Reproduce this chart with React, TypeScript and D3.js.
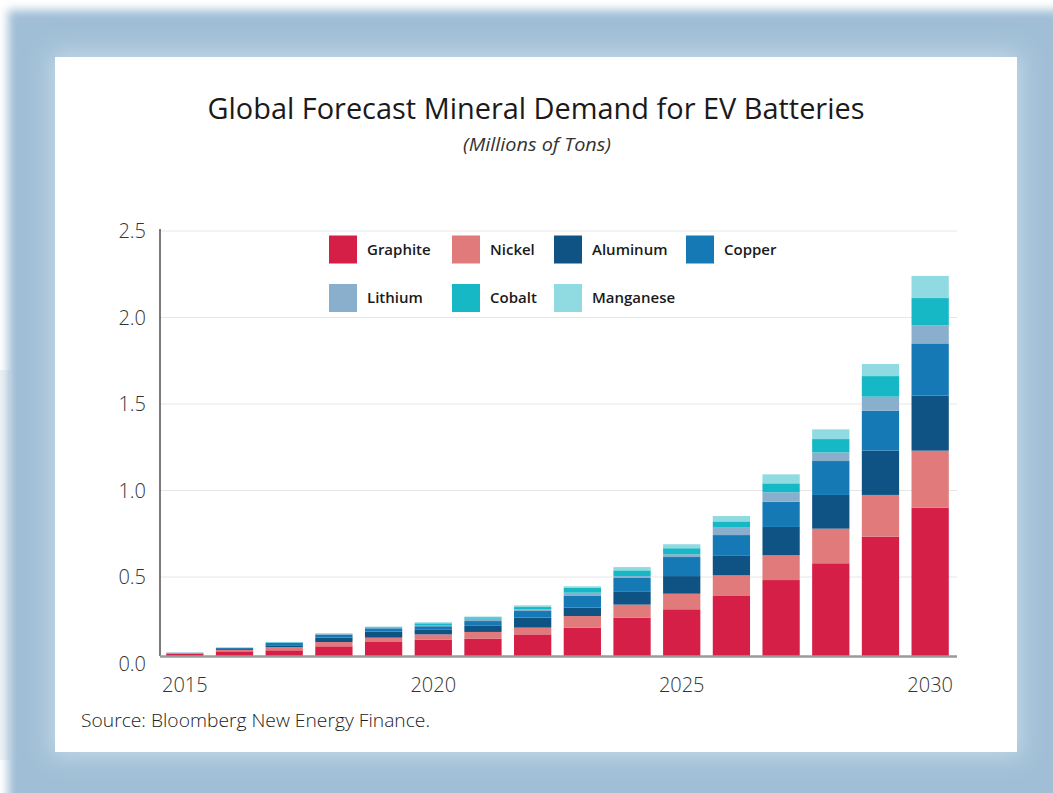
import * as d3 from "d3";

const years = [2015, 2016, 2017, 2018, 2019, 2020, 2021, 2022, 2023, 2024, 2025, 2026, 2027, 2028, 2029, 2030];

const graphite = [0.013, 0.027, 0.033, 0.056, 0.081, 0.095, 0.101, 0.125, 0.164, 0.222, 0.270, 0.347, 0.439, 0.536, 0.690, 0.857];
const nickel = [0.004, 0.008, 0.019, 0.025, 0.025, 0.030, 0.038, 0.039, 0.067, 0.075, 0.090, 0.119, 0.143, 0.200, 0.241, 0.330];
const aluminum = [0.001, 0.005, 0.010, 0.025, 0.035, 0.029, 0.038, 0.058, 0.049, 0.077, 0.102, 0.116, 0.164, 0.195, 0.256, 0.318];
const copper = [0.001, 0.006, 0.013, 0.018, 0.019, 0.018, 0.025, 0.038, 0.067, 0.077, 0.110, 0.117, 0.146, 0.196, 0.231, 0.302];
const lithium = [0, 0.002, 0.002, 0.003, 0.003, 0.007, 0.014, 0.010, 0.019, 0.011, 0.016, 0.043, 0.054, 0.050, 0.081, 0.105];
const cobalt = [0, 0.001, 0.003, 0.002, 0.004, 0.010, 0.008, 0.013, 0.027, 0.033, 0.035, 0.036, 0.052, 0.077, 0.119, 0.157];
const manganese = [0, 0.001, 0.001, 0.002, 0.003, 0.006, 0.004, 0.010, 0.010, 0.019, 0.023, 0.031, 0.052, 0.056, 0.070, 0.128];

const minerals = ["Graphite", "Nickel", "Aluminum", "Copper", "Lithium", "Cobalt", "Manganese"];
const colors = ["#d51f47", "#e07a7b", "#0e5383", "#1479b5", "#89afcc", "#17b8c6", "#8fdbe1"];

const yTicks = [0, 0.5, 1, 1.5, 2, 2.5];
const xTickYears = [2015, 2020, 2025, 2030];

const W = 1053;
const H = 793;
const margin = { left: 160, right: 98, top: 223.5, bottom: 137 };
// the original draws the grid 7.5px below the bar scale
const gridShift = 7.5;

export default function App() {
  const series = [graphite, nickel, aluminum, copper, lithium, cobalt, manganese];
  const rows = years.map((yr, i) => {
    const r: Record<string, number> = { year: yr };
    minerals.forEach((m, k) => (r[m] = series[k][i]));
    return r;
  });

  const stacked = d3.stack<Record<string, number>>().keys(minerals)(rows);

  const color = d3.scaleOrdinal<string>().domain(minerals).range(colors);

  const x = d3.scaleBand<number>()
    .domain(years)
    .range([margin.left, W - margin.right])
    .paddingInner(0.25)
    .paddingOuter(0.125);

  const y = d3.scaleLinear()
    .domain([0, 2.5])
    .range([H - margin.bottom, margin.top]);

  const base = y(0);
  const legendCols = [329, 452, 554, 686];
  const legendRows = [235.5, 284];

  return (
    <svg width={W} height={H} style={{ position: "absolute", left: 0, top: 0, display: "block" }}>
      <defs>
        <filter id="blurOuter" x="-5%" y="-5%" width="110%" height="110%">
          <feGaussianBlur stdDeviation="5" />
        </filter>
        <filter id="blurInner" x="-5%" y="-5%" width="110%" height="110%">
          <feGaussianBlur stdDeviation="12" />
        </filter>
      </defs>

      {/* frame */}
      <rect x={0} y={0} width={W} height={H} fill="#ffffff" />
      <rect x={0} y={370} width={10} height={390} fill="#eef2f5" />
      <rect x={8} y={10} width={W} height={H} fill="#a0bed5" filter="url(#blurOuter)" />
      <rect x={50} y={52} width={972} height={705} fill="#c3d8e7" filter="url(#blurInner)" />
      <rect x={55} y={57} width={962} height={695} fill="#ffffff" />

      {/* titles */}
      <text x={536} y={119} textAnchor="middle" fontFamily="'Open Sans', sans-serif" fontSize={30}
        fill="#1a1a1a" textLength={657} lengthAdjust="spacingAndGlyphs">
        Global Forecast Mineral Demand for EV Batteries
      </text>
      <text x={537} y={151} textAnchor="middle" fontFamily="'Open Sans', sans-serif" fontSize={19}
        fontStyle="italic" fill="#333" textLength={148} lengthAdjust="spacingAndGlyphs">
        (Millions of Tons)
      </text>

      {/* grid */}
      {yTicks.filter(t => t > 0).map(t => (
        <line key={t} x1={margin.left} x2={W - margin.right + 2} y1={y(t) + gridShift} y2={y(t) + gridShift}
          stroke="#e6e6e6" strokeWidth={1} />
      ))}

      {/* y labels */}
      {yTicks.map(t => (
        <text key={t} x={146} y={y(t) + gridShift} dy="0.36em" textAnchor="end"
          fontFamily="'Open Sans', sans-serif" fontWeight={300} fontSize={20} fill="#333">
          {d3.format(".1f")(t)}
        </text>
      ))}

      {/* bars */}
      {stacked.map(s => (
        <g key={s.key} fill={color(s.key)}>
          {s.map((d, i) => (
            <rect key={i} x={x(years[i])} width={x.bandwidth()}
              y={y(d[1])} height={Math.max(0, y(d[0]) - y(d[1]))} />
          ))}
        </g>
      ))}

      {/* axes */}
      <line x1={margin.left} x2={margin.left} y1={229} y2={base} stroke="#333" strokeWidth={1.3} />
      <line x1={margin.left} x2={W - margin.right + 2} y1={base + 0.5} y2={base + 0.5} stroke="#9a9a9a" strokeWidth={2.5} />

      {/* x labels */}
      {xTickYears.map(yr => (
        <text key={yr} x={(x(yr) ?? 0) + x.bandwidth() / 2} y={692} textAnchor="middle"
          fontFamily="'Open Sans', sans-serif" fontWeight={300} fontSize={20} fill="#333">
          {yr}
        </text>
      ))}

      {/* legend */}
      {minerals.map((m, i) => {
        const cx = legendCols[i % 4];
        const cy = legendRows[Math.floor(i / 4)];
        return (
          <g key={m}>
            <rect x={cx} y={cy} width={28} height={28} fill={color(m)} />
            <text x={cx + 38} y={cy + 14} dy="0.36em" fontFamily="'Open Sans', sans-serif"
              fontWeight={600} fontSize={15} fill="#1a1a1a">
              {m}
            </text>
          </g>
        );
      })}

      {/* source */}
      <text x={81} y={727} fontFamily="'Open Sans', sans-serif" fontWeight={300} fontSize={19}
        fill="#222" textLength={349} lengthAdjust="spacingAndGlyphs">
        Source: Bloomberg New Energy Finance.
      </text>
    </svg>
  );
}
